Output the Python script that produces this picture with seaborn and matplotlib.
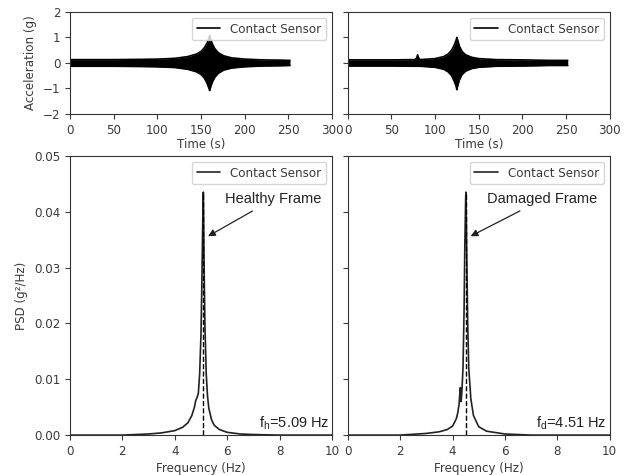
import numpy as np
import pandas as pd
import matplotlib
matplotlib.use("Agg")
import matplotlib.pyplot as plt
import seaborn as sns

# envelope of the acceleration records
t_healthy = [0, 20, 50, 80, 100, 120, 135, 145, 150, 154, 157, 159, 160, 161, 163, 166, 170, 176, 185, 200, 220, 240, 252]
up_healthy = [0.13, 0.13, 0.13, 0.14, 0.15, 0.18, 0.25, 0.35, 0.45, 0.6, 0.78, 0.95, 1.08, 0.95, 0.75, 0.55, 0.4, 0.28, 0.2, 0.15, 0.12, 0.11, 0.1]
lo_healthy = [-0.13, -0.13, -0.13, -0.14, -0.15, -0.18, -0.25, -0.35, -0.45, -0.6, -0.8, -0.98, -1.08, -0.95, -0.75, -0.55, -0.4, -0.28, -0.2, -0.15, -0.12, -0.11, -0.1]

t_damaged = [0, 20, 50, 77, 79, 80, 81, 83, 100, 110, 115, 119, 122, 124, 125, 126, 128, 131, 135, 142, 150, 170, 200, 230, 252]
up_damaged = [0.12, 0.12, 0.12, 0.13, 0.2, 0.32, 0.2, 0.13, 0.17, 0.25, 0.35, 0.5, 0.7, 0.88, 1.0, 0.88, 0.65, 0.45, 0.32, 0.22, 0.17, 0.13, 0.12, 0.1, 0.1]
lo_damaged = [-0.12, -0.12, -0.12, -0.13, -0.13, -0.13, -0.13, -0.13, -0.17, -0.25, -0.35, -0.5, -0.72, -0.9, -1.05, -0.88, -0.65, -0.45, -0.32, -0.22, -0.17, -0.13, -0.12, -0.1, -0.1]

# PSD curves
f_healthy = [0, 1, 2, 3, 3.5, 4, 4.3, 4.5, 4.65, 4.75, 4.8, 4.85, 4.9, 4.95, 5.0, 5.03, 5.06, 5.08, 5.09, 5.1, 5.12, 5.15, 5.2, 5.25, 5.3, 5.4, 5.5, 5.7, 6, 6.5, 7, 8, 10]
psd_healthy = [0, 0, 0, 0.0002, 0.0004, 0.0008, 0.0014, 0.0022, 0.0035, 0.005, 0.0062, 0.0067, 0.0075, 0.011, 0.018, 0.026, 0.036, 0.042, 0.0435, 0.04, 0.03, 0.02, 0.011, 0.007, 0.0048, 0.0028, 0.0018, 0.001, 0.0005, 0.0002, 0.0001, 0, 0]

f_damaged = [0, 2, 3, 3.5, 3.8, 4.0, 4.1, 4.15, 4.2, 4.25, 4.28, 4.3, 4.33, 4.36, 4.4, 4.44, 4.47, 4.5, 4.51, 4.52, 4.55, 4.58, 4.62, 4.7, 4.8, 5.0, 5.3, 6, 7, 10]
psd_damaged = [0, 0, 0.0003, 0.0006, 0.001, 0.0016, 0.0025, 0.003, 0.004, 0.0055, 0.0075, 0.0085, 0.006, 0.008, 0.012, 0.022, 0.034, 0.042, 0.0435, 0.041, 0.03, 0.02, 0.012, 0.0065, 0.0035, 0.0015, 0.0007, 0.0002, 0, 0]

peak_freq = [5.09, 4.51]
peak_psd = [0.0435, 0.0435]
frame_names = ["Healthy Frame", "Damaged Frame"]
freq_labels = [r"f$_\mathrm{h}$=5.09 Hz", r"f$_\mathrm{d}$=4.51 Hz"]

sns.set_style("ticks")
plt.rcParams["font.size"] = 8.6
plt.rcParams["text.color"] = "#3a3a3a"
plt.rcParams["axes.labelcolor"] = "#3a3a3a"
plt.rcParams["xtick.color"] = "#3a3a3a"
plt.rcParams["ytick.color"] = "#3a3a3a"
plt.rcParams["axes.edgecolor"] = "#333333"
plt.rcParams["mathtext.fontset"] = "custom"
plt.rcParams["mathtext.rm"] = "Liberation Sans"

fig = plt.figure(figsize=(6.37, 4.75), dpi=100)
ax_tl = fig.add_axes([0.110, 0.760, 0.411, 0.215])
ax_tr = fig.add_axes([0.546, 0.760, 0.411, 0.215])
ax_bl = fig.add_axes([0.110, 0.084, 0.411, 0.588])
ax_br = fig.add_axes([0.546, 0.084, 0.411, 0.588])

# time histories
for ax, t, up, lo in [(ax_tl, t_healthy, up_healthy, lo_healthy),
                      (ax_tr, t_damaged, up_damaged, lo_damaged)]:
    ax.fill_between(t, lo, up, color="black", lw=0)
    sns.lineplot(x=t, y=up, ax=ax, color="black", lw=1.2, label="Contact Sensor")
    sns.lineplot(x=t, y=lo, ax=ax, color="black", lw=1.2)
    ax.set_xlim(0, 300)
    ax.set_ylim(-2, 2)
    ax.set_xticks([0, 50, 100, 150, 200, 250, 300])
    ax.set_yticks([-2, -1, 0, 1, 2])
    ax.set_xlabel("Time (s)", labelpad=1)
    ax.legend(loc="upper right", fontsize=8.6)
ax_tl.set_ylabel("Acceleration (g)")
ax_tr.set_yticklabels([])

# PSD plots
for i, (ax, f, p) in enumerate([(ax_bl, f_healthy, psd_healthy),
                                (ax_br, f_damaged, psd_damaged)]):
    df = pd.DataFrame({"f": f, "psd": p})
    sns.lineplot(data=df, x="f", y="psd", ax=ax, color="#222222", lw=1.2, label="Contact Sensor")
    ax.vlines(peak_freq[i], 0, peak_psd[i], colors="black", linestyles="--", lw=1.0)
    ax.set_xlim(0, 10)
    ax.set_ylim(0, 0.05)
    ax.set_xticks([0, 2, 4, 6, 8, 10])
    ax.set_yticks([0, 0.01, 0.02, 0.03, 0.04, 0.05])
    ax.set_xlabel("Frequency (Hz)", labelpad=3)
    ax.set_ylabel("")
    ax.legend(loc="upper right", fontsize=8.6)
    ax.annotate(frame_names[i], xy=(peak_freq[i] + 0.18, 0.0356),
                xytext=(peak_freq[i] + 0.82, 0.0422), ha="left", va="center",
                fontsize=10.5, family="Liberation Sans", color="#222222",
                arrowprops=dict(arrowstyle="-|>", color="#222222", lw=0.9, shrinkA=2, shrinkB=0))
    ax.text(0.99, 0.012, freq_labels[i], transform=ax.transAxes, ha="right", va="bottom",
            fontsize=10.5, family="Liberation Sans", color="#222222")
ax_bl.set_ylabel("PSD (g²/Hz)")
ax_bl.set_yticklabels(["0.00", "0.01", "0.02", "0.03", "0.04", "0.05"])
ax_br.set_yticklabels([])

fig.savefig("out.png", dpi=100)
